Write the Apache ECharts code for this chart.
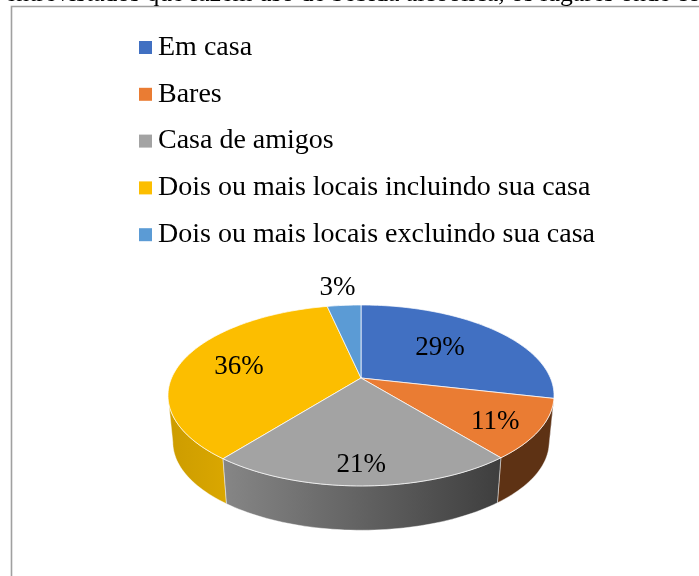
<!DOCTYPE html>
<html><head><meta charset="utf-8">
<style>html,body{margin:0;padding:0;background:#fff}#c{width:699px;height:576px}</style>
<script src="https://cdn.jsdelivr.net/npm/echarts@6/dist/echarts.min.js"></script>
</head><body><div id="c"></div>
<script>
const categories = ['Em casa','Bares','Casa de amigos','Dois ou mais locais incluindo sua casa','Dois ou mais locais excluindo sua casa'];
const values = [28.6, 10.6, 21.4, 36.0, 3.4];
const percentLabels = ['29%','11%','21%','36%','3%'];
const topColors = ['#4170C2','#EA7C33','#A3A3A3','#FCBE00','#5B9BD5'];
const wallColors = [['#2A4478','#2A4478'],['#5E3214','#5E3214'],['#868686','#3E3E3E'],['#CC9C00','#DAA700'],['#36638A','#36638A']];
const labelRadius = [0.57,0.77,0.82,0.68,1.33];
const labelNudge = [-1,5,2,2,2];
const labelShift = [0,0,-1,0,-2];

const FONT = '"Liberation Serif","Times New Roman",serif';
const CX=361, CY=378, RX=189.4, RY=87.1, K=0.193, DEPTH=47, SHRINK=0.975;
const total = values.reduce((a,b)=>a+b,0);
function project(deg,r){
  const t=deg*Math.PI/180,u=r*Math.sin(t),v=r*Math.cos(t),d=1+K*v;
  return [CX+RX*u/d, CY-RY*v/d];
}
function lower(p){return [CX+(p[0]-CX)*SHRINK, CY+(p[1]-CY)*SHRINK+DEPTH];}
function arc(a,b){const n=Math.max(2,Math.ceil(Math.abs(b-a)/1.5));const o=[];for(let i=0;i<=n;i++)o.push(project(a+(b-a)*i/n,1));return o;}
const FRONT=[101.1,258.9];
function renderSlice(idx){
  return function(params,api){
    let start=0;for(let i=0;i<idx;i++)start+=values[i];
    const a0=start/total*360, a1=a0+api.value(0)/total*360;
    const children=[];
    const w0=Math.max(a0,FRONT[0]),w1=Math.min(a1,FRONT[1]);
    if(w1>w0){
      const top=arc(w0,w1),bot=top.map(lower).reverse();
      children.push({type:'polygon',shape:{points:top.concat(bot)},
        style:{fill:new echarts.graphic.LinearGradient(0,0,1,0,[{offset:0,color:wallColors[idx][0]},{offset:1,color:wallColors[idx][1]}]),stroke:'rgba(255,255,255,0.55)',lineWidth:0.8}});
    }
    children.push({type:'polygon',shape:{points:[[CX,CY]].concat(arc(a0,a1))},
      style:{fill:topColors[idx],stroke:'rgba(255,255,255,0.8)',lineWidth:0.9,lineJoin:'round'}});
    const mid=(a0+a1)/2,lp=project(mid,labelRadius[idx]);
    children.push({type:'text',x:lp[0]+labelShift[idx],y:lp[1]+labelNudge[idx],z2:10,
      style:{text:percentLabels[idx],fill:'#000',font:'27px '+FONT,align:'center',verticalAlign:'middle'}});
    return {type:'group',children};
  };
}
const chart=echarts.init(document.getElementById('c'),null,{renderer:'canvas'});
chart.setOption({
  animation:false,
  backgroundColor:'#fff',
  color:topColors,
  legend:{
    orient:'vertical',left:139,top:33,padding:0,icon:'rect',itemWidth:13,itemHeight:13,itemGap:17.8,
    data:categories,selectedMode:false,
    textStyle:{fontFamily:FONT,fontSize:28,color:'#000',lineHeight:29,padding:[0,0,0,1]}
  },
  series:categories.map((name,i)=>({
    type:'custom',name,coordinateSystem:'none',z:i===2?3:2,
    itemStyle:{color:topColors[i]},
    data:[[values[i]]],
    renderItem:renderSlice(i)
  })),
  graphic:[
    {type:'polyline',silent:true,z:0,shape:{points:[[11.5,576],[11.5,6.5],[699,6.5]]},style:{fill:null,stroke:'#A0A0A0',lineWidth:1.6}},
    {type:'text',left:5,top:-18.5,silent:true,style:{text:'entrevistados que fazem uso de bebida alcoólica, os lugares onde costumam',font:'25.6px '+FONT,fill:'#000'}}
  ]
});
</script></body></html>
